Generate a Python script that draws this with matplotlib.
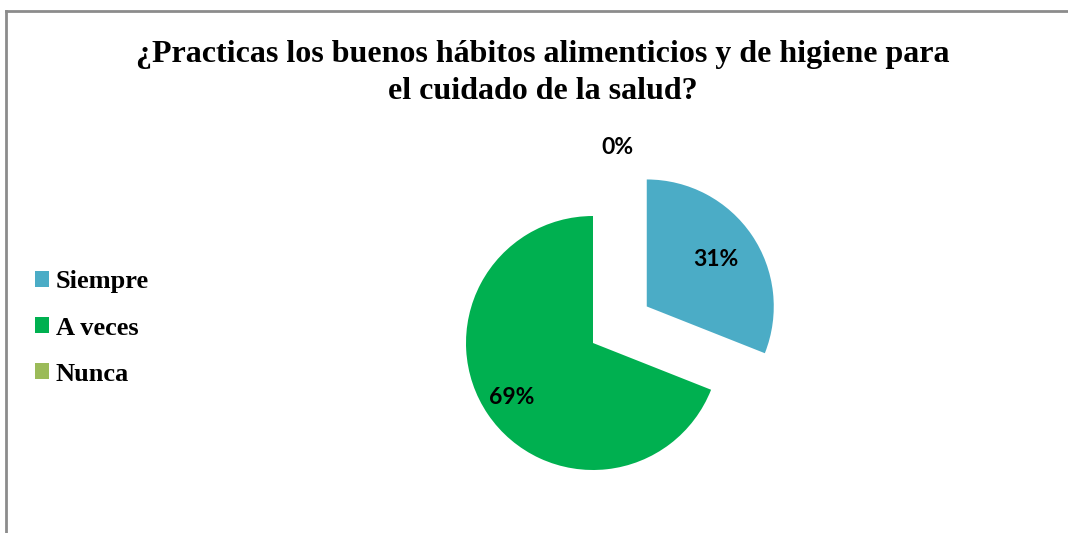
import numpy as np
import matplotlib.pyplot as plt
from matplotlib.patches import Patch
from matplotlib.lines import Line2D

title = "¿Practicas los buenos hábitos alimenticios y de higiene para\nel cuidado de la salud?"
categories = ["Siempre", "A veces", "Nunca"]
values = [31, 69, 0]
colors = ["#4BACC6", "#00B050", "#9BBB59"]
explode_px = [65, 0, 0]

W, H = 1068, 533
fig = plt.figure(figsize=(W / 100, H / 100), dpi=100)
ax = fig.add_axes([0, 0, 1, 1])

cx, cy, r = 593, 190, 127
# explode is in data units (pixels here)
wedges, _ = ax.pie(values, colors=colors, startangle=90, counterclock=False,
                   radius=r, center=(cx, cy), explode=explode_px,
                   wedgeprops=dict(linewidth=0))
# pie resets limits, so set pixel-space limits afterwards
ax.set_xlim(0, W)
ax.set_ylim(0, H)
ax.set_aspect("equal")
ax.axis("off")

# outer frame (only top and left edges visible)
fig.add_artist(Line2D([6 / W, 6 / W], [0, 1 - 11 / H], transform=fig.transFigure, color="#8c8c8c", lw=2))
fig.add_artist(Line2D([6 / W, 1], [1 - 11 / H, 1 - 11 / H], transform=fig.transFigure, color="#8c8c8c", lw=2))

label_font = dict(family=["Lato", "DejaVu Sans"], fontweight="bold", fontsize=16.5, color="black")
for w, v, e in zip(wedges, values, explode_px):
    mid = np.deg2rad((w.theta1 + w.theta2) / 2)
    if v == 0:
        dist, mid = 197, mid - np.deg2rad(7)
    else:
        dist = 0.66 * r if e else 0.77 * r
    x = cx + (dist + e) * np.cos(mid)
    y = cy + (dist + e) * np.sin(mid)
    ax.text(x, y, f"{v}%", ha="center", va="center", **label_font)

fig.text(543 / W, 1 - 73 / H, title, ha="center", va="center", fontsize=23,
         fontweight="bold", family="Liberation Serif", linespacing=1.35)

handles = [Patch(facecolor=c, edgecolor="none") for c in colors]
fig.legend(handles, categories, loc="center left", bbox_to_anchor=(11 / W, 1 - 328 / H),
           frameon=False, prop=dict(family="Liberation Serif", weight="bold", size=19),
           handlelength=0.55, handleheight=0.55, handletextpad=0.25, labelspacing=0.88)

fig.savefig("out.png", dpi=100)
